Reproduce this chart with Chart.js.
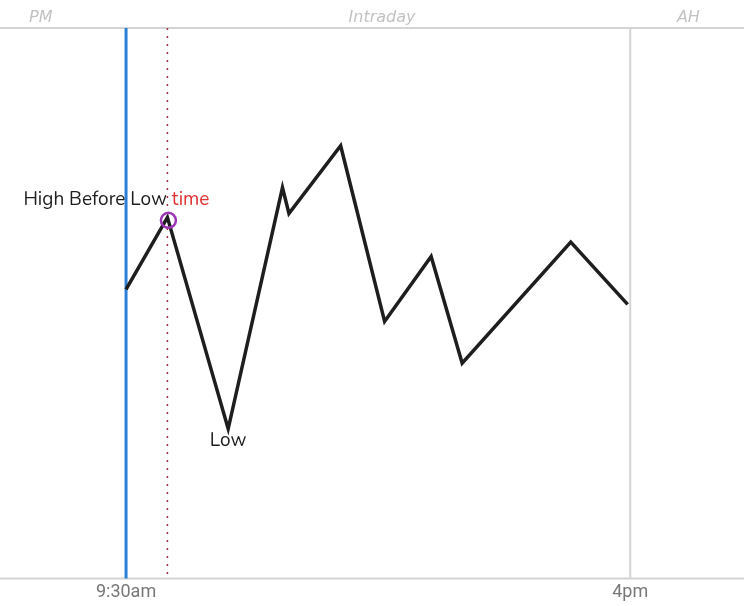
<!DOCTYPE html>
<html>
<head>
<meta charset="utf-8">
<script src="https://cdn.jsdelivr.net/npm/chart.js@4"></script>
<style>
  body { margin: 0; background: #fff; }
  #wrap { width: 744px; height: 606px; }
</style>
</head>
<body>
<div id="wrap"><canvas id="canvas"></canvas></div>
<script>
// minutes after 9:30am, and price (arbitrary units)
var minutes = [0, 32, 79, 121, 126, 166, 200, 236, 260, 344, 388];
var prices = [52.5, 65.6, 27.2, 71.0, 66.3, 78.6, 46.7, 58.5, 39.1, 61.1, 49.8];

var tickValues = [0, 390];
var tickLabels = ['9:30am', '4pm'];

var sessionNames = ['PM', 'Intraday', 'AH'];
var sessionCenters = [-66, 198, 435];

var highIndex = 1;
var lowIndex = 2;

var guides = {
    id: 'guides',
    beforeDatasetsDraw: function (chart) {
        var c = chart.ctx, a = chart.chartArea;
        var x = chart.scales.x;
        var open = x.getPixelForValue(tickValues[0]);
        var close = x.getPixelForValue(tickValues[1]);
        var hx = x.getPixelForValue(minutes[highIndex]);
        c.save();
        // frame lines
        c.strokeStyle = '#d4d4d4';
        c.lineWidth = 2;
        c.beginPath();
        c.moveTo(0, a.top); c.lineTo(chart.width, a.top);
        c.moveTo(0, a.bottom); c.lineTo(chart.width, a.bottom);
        c.moveTo(close, a.top); c.lineTo(close, a.bottom);
        c.stroke();
        // open line
        c.strokeStyle = '#2b7fd6';
        c.lineWidth = 3;
        c.beginPath();
        c.moveTo(open, a.top); c.lineTo(open, a.bottom);
        c.stroke();
        // high time line
        c.strokeStyle = '#a8323e';
        c.lineWidth = 1.5;
        c.setLineDash([2, 6]);
        c.beginPath();
        c.moveTo(hx, a.top); c.lineTo(hx, a.bottom);
        c.stroke();
        c.restore();
    },
    afterDatasetsDraw: function (chart) {
        var c = chart.ctx, a = chart.chartArea;
        var x = chart.scales.x, y = chart.scales.y;
        var hx = x.getPixelForValue(minutes[highIndex]);
        var hy = y.getPixelForValue(prices[highIndex]);
        var lx = x.getPixelForValue(minutes[lowIndex]);
        var ly = y.getPixelForValue(prices[lowIndex]);
        c.save();
        c.strokeStyle = '#9c36b5';
        c.lineWidth = 2.5;
        c.beginPath();
        c.arc(hx + 1, hy + 3, 7.5, 0, Math.PI * 2);
        c.stroke();

        c.font = '19px "Nunito", "Noto Sans", sans-serif';
        c.textBaseline = 'middle';
        var t1 = 'High Before Low ', t2 = 'time';
        var w1 = c.measureText(t1).width, w2 = c.measureText(t2).width;
        var sx = hx + 42 - (w1 + w2);
        c.fillStyle = '#1e1e1e';
        c.textAlign = 'left';
        c.fillText(t1, sx, hy - 17);
        c.fillStyle = '#e03131';
        c.fillText(t2, sx + w1, hy - 17);

        c.fillStyle = '#1e1e1e';
        c.textAlign = 'center';
        c.fillText('Low', lx, ly + 13);

        c.fillStyle = '#c2c2c2';
        c.font = 'italic 16px "DejaVu Sans", sans-serif';
        c.textBaseline = 'middle';
        for (var i = 0; i < sessionNames.length; i++) {
            c.fillText(sessionNames[i], x.getPixelForValue(sessionCenters[i]), a.top - 10);
        }
        c.restore();
    }
};

var ctx = document.getElementById('canvas').getContext('2d');
var myChart = new Chart(ctx, {
    type: 'line',
    data: {
        datasets: [{
            data: minutes.map(function (m, i) { return { x: m, y: prices[i] }; }),
            borderColor: '#1e1e1e',
            borderWidth: 3.5,
            pointRadius: 0,
            tension: 0
        }]
    },
    options: {
        responsive: true,
        maintainAspectRatio: false,
        animation: false,
        layout: { padding: { top: 28, left: 0, right: 0, bottom: 0 } },
        plugins: { legend: { display: false }, tooltip: { enabled: false } },
        scales: {
            x: {
                type: 'linear',
                min: -97.5,
                max: 478,
                grid: { display: false, drawTicks: false },
                border: { display: false },
                afterBuildTicks: function (axis) {
                    axis.ticks = tickValues.map(function (v) { return { value: v }; });
                },
                ticks: {
                    autoSkip: false,
                    maxRotation: 0,
                    padding: 7,
                    color: '#777',
                    font: { family: 'Roboto', size: 18, lineHeight: 0.75 },
                    callback: function (v) {
                        var i = tickValues.indexOf(v);
                        return i >= 0 ? tickLabels[i] : '';
                    }
                }
            },
            y: {
                display: false,
                min: 0,
                max: 100
            }
        }
    },
    plugins: [guides]
});
</script>
</body>
</html>
